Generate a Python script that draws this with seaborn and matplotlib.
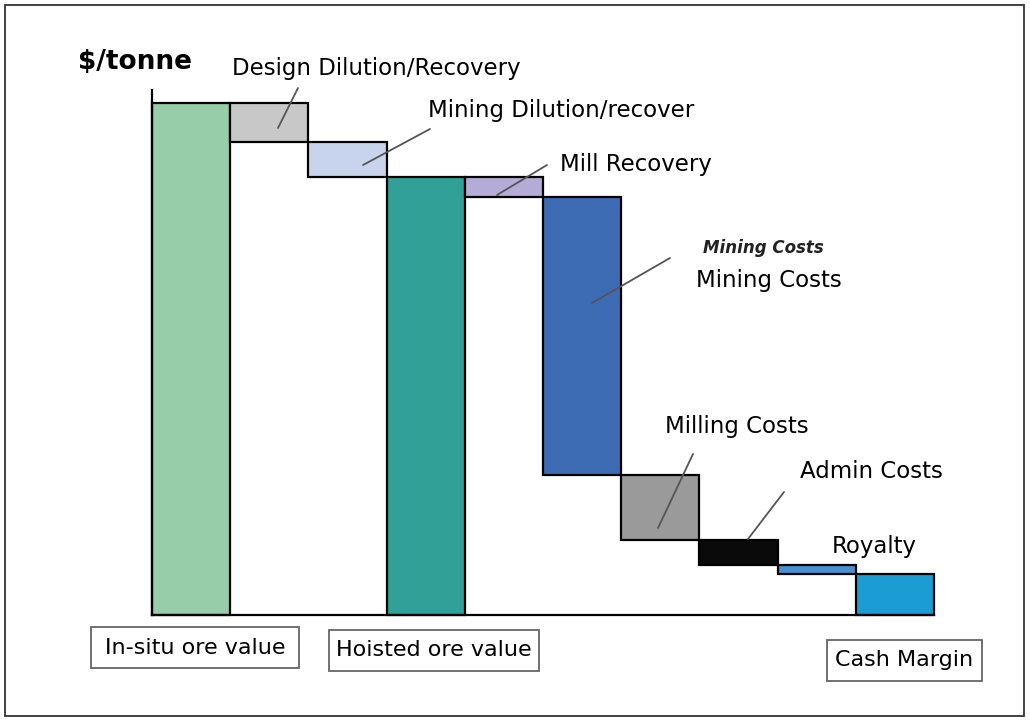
import numpy as np
import pandas as pd
import matplotlib.pyplot as plt
import matplotlib.patches as mpatches
import seaborn as sns

# waterfall steps ($/tonne, in-situ value = 100)
steps = ['In-situ', 'Design Dilution/Recovery', 'Mining Dilution/recover', 'Hoisted',
         'Mill Recovery', 'Mining Costs', 'Milling Costs', 'Admin Costs', 'Royalty', 'Cash Margin']
in_situ = 100.0
losses_before_hoist = [7.6, 6.8]
losses_after_hoist = [3.9, 54.3, 12.7, 4.9, 1.8]
colors = ['#98cdaa', '#c8c8c8', '#c8d4ec', '#31a096', '#b4acd6',
          '#3e6cb4', '#9a9a9a', '#0a0a0a', '#4a8fd2', '#1b9dd4']

# build bottoms / heights of every step
hoisted = in_situ - sum(losses_before_hoist)
cash = hoisted - sum(losses_after_hoist)
heights, bottoms = [in_situ], [0.0]
level = in_situ
for v in losses_before_hoist:
    level -= v
    heights.append(v)
    bottoms.append(level)
heights.append(hoisted)
bottoms.append(0.0)
level = hoisted
for v in losses_after_hoist:
    level -= v
    heights.append(v)
    bottoms.append(level)
heights.append(cash)
bottoms.append(0.0)

df = pd.DataFrame({'step': steps, 'height': heights, 'bottom': bottoms})

sns.set_style('white')
plt.rcParams['font.family'] = ['DejaVu Sans']
plt.rcParams['text.color'] = 'black'

W, H = 1030, 720
fig = plt.figure(figsize=(W / 100, H / 100), dpi=100)


def px(x, y):
    # pixel position -> figure fraction
    return x / W, 1 - y / H


ax = fig.add_axes([152 / W, 1 - 615 / H, 782 / W, 525 / H])
sns.barplot(data=df, x='step', y='height', bottom=df['bottom'].values, width=1.0,
            errorbar=None, color='white', edgecolor='black', linewidth=1.6, ax=ax)
for p, c in zip(ax.patches, colors):
    p.set_facecolor(c)
    p.set_clip_on(False)

ax.set_xlim(-0.5, len(steps) - 0.5)
ax.set_ylim(0, 102.5)
ax.set_xticks([])
ax.set_yticks([])
ax.set_xlabel('')
ax.set_ylabel('')
sns.despine(ax=ax)
for s in ['left', 'bottom']:
    ax.spines[s].set_color('black')
    ax.spines[s].set_linewidth(1.6)

# axis title
fig.text(*px(78, 62), '$/tonne', fontsize=19, fontweight='bold', va='center', ha='left')

# labels with leader lines
labels = [
    ('Design Dilution/Recovery', 232, 69, (278, 128), (298, 88)),
    ('Mining Dilution/recover', 428, 110, (363, 165), (430, 129)),
    ('Mill Recovery', 560, 164, (497, 195), (547, 165)),
    ('Mining Costs', 696, 281, (592, 303), (670, 258)),
    ('Milling Costs', 665, 427, (658, 528), (693, 454)),
    ('Admin Costs', 800, 471, (748, 539), (784, 492)),
    ('Royalty', 832, 546, None, None),
]
for txt, x, y, p0, p1 in labels:
    fig.text(*px(x, y), txt, fontsize=16.5, va='center', ha='left')
    if p0 is not None:
        x0, y0 = px(*p0)
        x1, y1 = px(*p1)
        fig.add_artist(plt.Line2D([x0, x1], [y0, y1], color='#555555', lw=1.3,
                                  transform=fig.transFigure))
fig.text(*px(703, 248), 'Mining Costs', fontsize=12, fontweight='bold',
         style='italic', va='center', ha='left', color='#222222')

# boxed category labels
boxes = [
    ('In-situ ore value', 91, 627, 208, 41),
    ('Hoisted ore value', 329, 630, 210, 41),
    ('Cash Margin', 827, 640, 155, 41),
]
for txt, x, y, w, h in boxes:
    fig.add_artist(mpatches.Rectangle(px(x, y + h), w / W, h / H, transform=fig.transFigure,
                                      facecolor='white', edgecolor='#666666', lw=1.3))
    fig.text(*px(x + w / 2, y + h / 2), txt, fontsize=16, va='center', ha='center')

# outer frame
fig.add_artist(mpatches.Rectangle(px(5, 716), 1019 / W, 711 / H, transform=fig.transFigure,
                                  facecolor='none', edgecolor='#333333', lw=1.3))

plt.savefig('out.png', dpi=100)
